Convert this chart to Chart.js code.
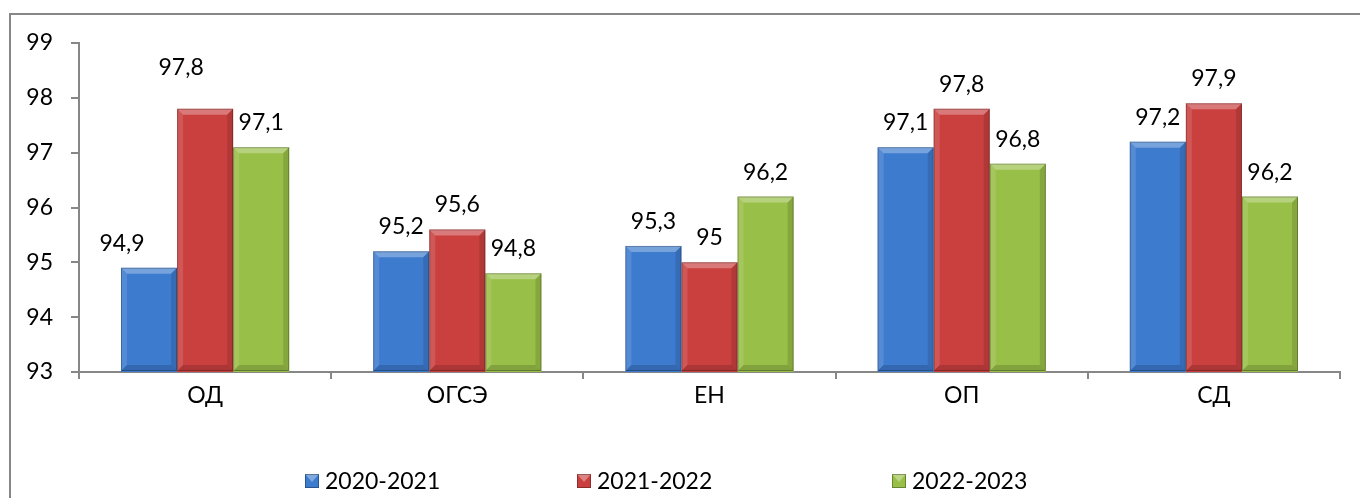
<!DOCTYPE html>
<html>
<head>
<meta charset="utf-8">
<script src="https://cdn.jsdelivr.net/npm/chart.js@4/dist/chart.umd.min.js"></script>
<style>
html,body{margin:0;padding:0;background:#fff;}
#wrap{position:relative;width:1360px;height:498px;}
canvas{display:block;}
</style>
</head>
<body>
<div id="wrap"><canvas id="c" width="1360" height="498"></canvas></div>
<script>
const categories = ['ОД', 'ОГСЭ', 'ЕН', 'ОП', 'СД'];
const seriesNames = ['2020-2021', '2021-2022', '2022-2023'];
const values2020 = [94.9, 95.2, 95.3, 97.1, 97.2];
const values2021 = [97.8, 95.6, 95.0, 97.8, 97.9];
const values2022 = [97.1, 94.8, 96.2, 96.8, 96.2];
const yTicks = [93, 94, 95, 96, 97, 98, 99];

const colors = ['#3d7bcf', '#c9403f', '#98bf47'];
const FONT = 'Lato, "Liberation Sans", sans-serif';
const FS = 23;
// manual label nudges (dataset index, category index) -> [dx, dy] in px
const labelNudges = { '0-0': [-27, 0], '1-0': [-24, -17] };

function fmt(v){ return String(v).replace('.', ','); }

const bevelPlugin = {
  id: 'bevel',
  afterDatasetsDraw(chart){
    const ctx = chart.ctx;
    const area = chart.chartArea;
    chart.data.datasets.forEach((ds, di) => {
      const meta = chart.getDatasetMeta(di);
      meta.data.forEach(bar => {
        const w = bar.width, x0 = bar.x - w/2, x1 = bar.x + w/2;
        const top = bar.y, bot = Math.min(bar.base, area.bottom - 1), b = 6;
        ctx.save();
        ctx.fillStyle = 'rgba(255,255,255,0.30)';
        ctx.beginPath(); ctx.moveTo(x0, top); ctx.lineTo(x1, top); ctx.lineTo(x1-b, top+b); ctx.lineTo(x0+b, top+b); ctx.closePath(); ctx.fill();
        ctx.fillStyle = 'rgba(255,255,255,0.12)';
        ctx.beginPath(); ctx.moveTo(x0, top); ctx.lineTo(x0+b, top+b); ctx.lineTo(x0+b, bot-b); ctx.lineTo(x0, bot); ctx.closePath(); ctx.fill();
        ctx.fillStyle = 'rgba(0,0,0,0.12)';
        ctx.beginPath(); ctx.moveTo(x1, top); ctx.lineTo(x1-b, top+b); ctx.lineTo(x1-b, bot-b); ctx.lineTo(x1, bot); ctx.closePath(); ctx.fill();
        ctx.fillStyle = 'rgba(0,0,0,0.15)';
        ctx.beginPath(); ctx.moveTo(x0, bot); ctx.lineTo(x1, bot); ctx.lineTo(x1-b, bot-b); ctx.lineTo(x0+b, bot-b); ctx.closePath(); ctx.fill();
        ctx.strokeStyle = 'rgba(0,0,0,0.25)';
        ctx.lineWidth = 1;
        ctx.strokeRect(x0+0.5, top+0.5, w-1, bot-top-1);
        ctx.restore();
      });
    });
  }
};

const labelPlugin = {
  id: 'valueLabels',
  afterDatasetsDraw(chart){
    const ctx = chart.ctx;
    ctx.save();
    ctx.font = FS + 'px ' + FONT;
    ctx.fillStyle = '#000';
    ctx.textAlign = 'center';
    ctx.textBaseline = 'alphabetic';
    chart.data.datasets.forEach((ds, di) => {
      const meta = chart.getDatasetMeta(di);
      meta.data.forEach((bar, i) => {
        const n = labelNudges[di + '-' + i] || [0, 0];
        ctx.fillText(fmt(ds.data[i]), bar.x + n[0], bar.y - 17 + n[1]);
      });
    });
    ctx.restore();
  }
};

const framePlugin = {
  id: 'frame',
  beforeDraw(chart){
    const ctx = chart.ctx;
    ctx.save();
    ctx.strokeStyle = '#878787';
    ctx.lineWidth = 2;
    ctx.beginPath();
    ctx.moveTo(10, 600); ctx.lineTo(10, 14); ctx.lineTo(1400, 14);
    ctx.stroke();
    ctx.restore();
  }
};

const legendPlugin = {
  id: 'customLegend',
  afterDraw(chart, args, opts){
    const ctx = chart.ctx;
    ctx.save();
    ctx.font = FS + 'px ' + FONT;
    ctx.textBaseline = 'middle';
    ctx.textAlign = 'left';
    chart.data.datasets.forEach((ds, di) => {
      const x = opts.positions[di], y = opts.y, s = 14;
      ctx.fillStyle = ds.backgroundColor;
      ctx.fillRect(x, y - s/2, s, s);
      ctx.fillStyle = 'rgba(255,255,255,0.35)';
      ctx.beginPath(); ctx.moveTo(x, y - s/2); ctx.lineTo(x + s, y - s/2); ctx.lineTo(x + s/2, y + 1); ctx.closePath(); ctx.fill();
      ctx.strokeStyle = 'rgba(0,0,0,0.3)';
      ctx.lineWidth = 1;
      ctx.strokeRect(x + 0.5, y - s/2 + 0.5, s - 1, s - 1);
      ctx.fillStyle = '#000';
      ctx.fillText(ds.label, x + s + 6, y + 1);
    });
    ctx.restore();
  }
};

new Chart(document.getElementById('c'), {
  type: 'bar',
  data: {
    labels: categories,
    datasets: [
      { label: seriesNames[0], data: values2020, backgroundColor: colors[0] },
      { label: seriesNames[1], data: values2021, backgroundColor: colors[1] },
      { label: seriesNames[2], data: values2022, backgroundColor: colors[2] }
    ]
  },
  options: {
    responsive: false,
    animation: false,
    events: [],
    layout: { padding: { left: 0, right: 20, top: 43, bottom: 72 } },
    datasets: { bar: { categoryPercentage: 0.667, barPercentage: 1.0, borderWidth: 0 } },
    plugins: {
      legend: { display: false },
      tooltip: { enabled: false },
      customLegend: { positions: [305, 577, 892], y: 481 }
    },
    scales: {
      x: {
        grid: { display: true, drawOnChartArea: false, drawTicks: true, tickLength: 7, color: '#878787', lineWidth: 2, offset: true },
        border: { display: true, color: '#878787', width: 2 },
        ticks: { font: { family: FONT, size: FS }, color: '#000', padding: 3 },
        afterFit(s){ s.height = 54; }
      },
      y: {
        min: 93, max: 99,
        afterBuildTicks(s){ s.ticks = yTicks.map(v => ({ value: v })); },
        grid: { display: true, drawOnChartArea: false, drawTicks: true, tickLength: 8, color: '#878787', lineWidth: 2 },
        border: { display: true, color: '#878787', width: 2 },
        ticks: { font: { family: FONT, size: FS }, color: '#000', padding: 18 },
        afterFit(s){ s.width = 79; }
      }
    }
  },
  plugins: [framePlugin, bevelPlugin, labelPlugin, legendPlugin]
});
</script>
</body>
</html>
